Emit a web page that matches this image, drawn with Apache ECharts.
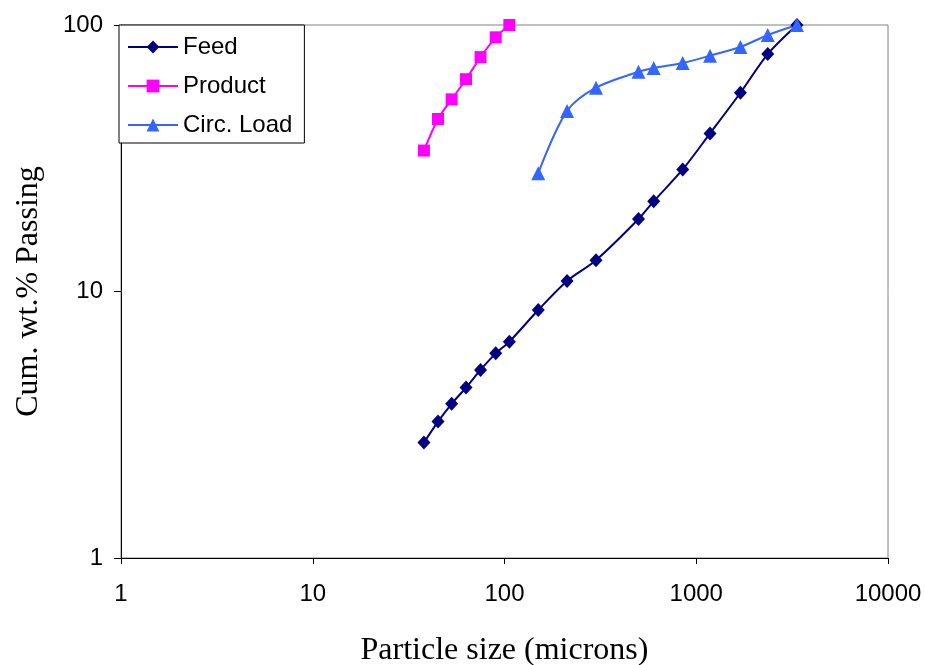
<!DOCTYPE html>
<html>
<head>
<meta charset="utf-8">
<script src="https://cdn.jsdelivr.net/npm/echarts@6/dist/echarts.min.js"></script>
<style>html,body{margin:0;padding:0;background:#fff}#c{width:925px;height:665px}</style>
</head>
<body>
<div id="c"></div>
<script>
// Particle sizes (microns) and cumulative wt.% passing
const feedSizes = [38, 45, 53, 63, 75, 90, 106, 150, 212, 300, 500, 600, 850, 1180, 1700, 2360, 3350];
const feedPassing = [2.71, 3.25, 3.79, 4.36, 5.08, 5.86, 6.48, 8.52, 10.95, 13.1, 18.7, 21.8, 28.7, 39.2, 55.7, 77.8, 100];
const productSizes = [38, 45, 53, 63, 75, 90, 106];
const productPassing = [33.8, 44.4, 52.6, 62.6, 75.8, 89.9, 100];
const circSizes = [150, 212, 300, 500, 600, 850, 1180, 1700, 2360, 3350];
const circPassing = [27.8, 47.6, 58.2, 66.8, 69.0, 72.0, 76.7, 82.7, 91.7, 100];
const seriesNames = ['Feed', 'Product', 'Circ. Load'];
const xTitle = 'Particle size (microns)';
const yTitle = 'Cum. wt.% Passing';

const pairs = (xs, ys) => xs.map((x, i) => [x, ys[i]]);
const plain = v => String(Math.round(v));

const chart = echarts.init(document.getElementById('c'));
const tickFont = { fontFamily: 'Liberation Sans, Arial, sans-serif', fontSize: 24, color: '#000' };
chart.setOption({
  animation: false,
  backgroundColor: '#fff',
  grid: { left: 121, right: 37, top: 25, bottom: 107, outerBoundsMode: 'none', containLabel: false,
    show: true, borderColor: '#808080', borderWidth: 1, backgroundColor: 'transparent' },
  legend: {
    orient: 'vertical', left: 119, top: 25,
    padding: [10, 12, 6, 8],
    itemWidth: 50, itemHeight: 16, itemGap: 15,
    backgroundColor: '#fff', borderColor: '#000', borderWidth: 1,
    textStyle: { fontFamily: 'Liberation Sans, Arial, sans-serif', fontSize: 24, color: '#000', lineHeight: 24 },
    data: seriesNames
  },
  xAxis: {
    type: 'log', logBase: 10, min: 1, max: 10000,
    name: xTitle, nameLocation: 'middle', nameGap: 77,
    nameTextStyle: { fontFamily: 'Liberation Serif, Times New Roman, serif', fontSize: 32, color: '#000' },
    axisLine: { show: true, lineStyle: { color: '#000', width: 1 } },
    axisTick: { show: true, inside: false, length: 6, lineStyle: { color: '#000' } },
    axisLabel: Object.assign({ margin: 24, formatter: plain }, tickFont),
    splitLine: { show: false }, minorTick: { show: false }
  },
  yAxis: {
    type: 'log', logBase: 10, min: 1, max: 100,
    name: yTitle, nameLocation: 'middle', nameGap: 76, nameRotate: 90,
    nameTextStyle: { fontFamily: 'Liberation Serif, Times New Roman, serif', fontSize: 32, color: '#000' },
    axisLine: { show: true, lineStyle: { color: '#000', width: 1 } },
    axisTick: { show: true, inside: false, length: 7, lineStyle: { color: '#000' } },
    axisLabel: Object.assign({ margin: 18, formatter: plain }, tickFont),
    splitLine: { show: false }, minorTick: { show: false }
  },
  series: [
    { name: seriesNames[0], type: 'line', data: pairs(feedSizes, feedPassing), smooth: 0.3,
      symbol: 'diamond', symbolSize: [13, 14], lineStyle: { color: '#000080', width: 2 }, itemStyle: { color: '#000080' } },
    { name: seriesNames[1], type: 'line', data: pairs(productSizes, productPassing), smooth: 0.3,
      symbol: 'rect', symbolSize: 12, lineStyle: { color: '#FF00FF', width: 2 }, itemStyle: { color: '#FF00FF' } },
    { name: seriesNames[2], type: 'line', data: pairs(circSizes, circPassing), smooth: 0.3,
      symbol: 'triangle', symbolSize: 14, lineStyle: { color: '#3366FF', width: 2 }, itemStyle: { color: '#3366FF' } }
  ]
});
</script>
</body>
</html>
